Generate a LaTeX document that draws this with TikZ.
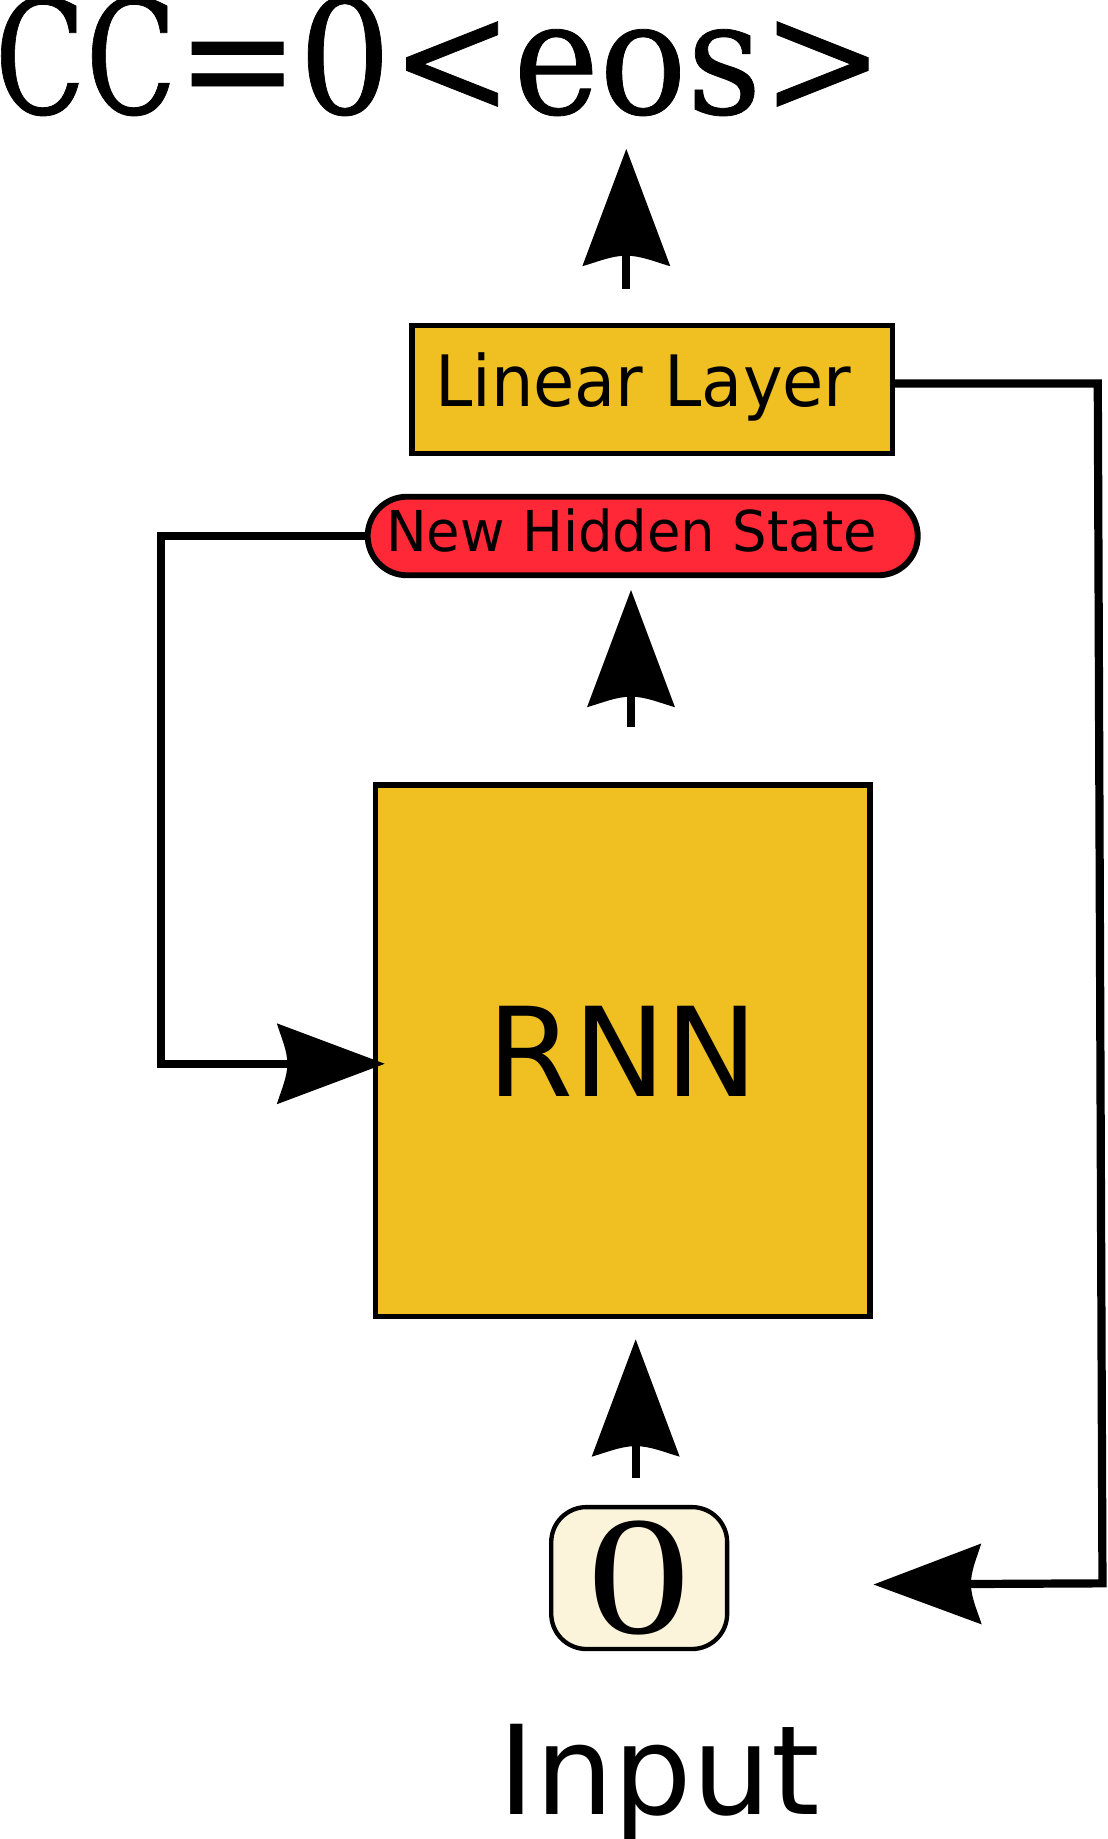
\documentclass[tikz,border=0pt]{standalone}
\usepackage{fontspec}
\usepackage{graphicx}
\setmainfont{DejaVu Sans}
\newfontfamily\titlefont[FakeBold=0.5]{DejaVu Serif}
\newfontfamily\zerofont{Liberation Serif}
\usetikzlibrary{arrows.meta}

\pgfdeclarearrow{
  name = Curved,
  parameters = {\the\pgfarrowlength,\the\pgfarrowwidth,\the\pgfarrowinset},
  setup code = {
    \pgfarrowssettipend{0pt}
    \pgfarrowssetlineend{-.5\pgfarrowlength}
    \pgfarrowssetbackend{-\pgfarrowlength}
    \pgfarrowssavethe\pgfarrowlength
    \pgfarrowssavethe\pgfarrowwidth
    \pgfarrowssavethe\pgfarrowinset
  },
  drawing code = {
    \pgfpathmoveto{\pgfqpoint{0pt}{0pt}}
    \pgfpathlineto{\pgfpoint{-\pgfarrowlength}{0.5*\pgfarrowwidth}}
    \pgfpathcurveto
      {\pgfpoint{-\pgfarrowlength+0.4*\pgfarrowinset}{0.333*\pgfarrowwidth}}
      {\pgfpoint{-\pgfarrowlength+\pgfarrowinset}{0.167*\pgfarrowwidth}}
      {\pgfpoint{-\pgfarrowlength+\pgfarrowinset}{0pt}}
    \pgfpathcurveto
      {\pgfpoint{-\pgfarrowlength+\pgfarrowinset}{-0.167*\pgfarrowwidth}}
      {\pgfpoint{-\pgfarrowlength+0.4*\pgfarrowinset}{-0.333*\pgfarrowwidth}}
      {\pgfpoint{-\pgfarrowlength}{-0.5*\pgfarrowwidth}}
    \pgfpathclose
    \pgfusepathqfill
  },
  defaults = {length = 10pt, width = 7pt, inset = 1pt}
}

\definecolor{gold}{HTML}{F0C022}
\definecolor{hidred}{HTML}{FF2837}
\definecolor{cream}{HTML}{FBF4DA}

\begin{document}
\begin{tikzpicture}[x=0.5pt,y=-0.5pt,
  box/.style={draw=black, line width=2.25pt, fill=gold, inner sep=0pt},
  pill/.style={draw=black, line width=2.5pt, fill=hidred, inner sep=0pt,
    rounded corners=16.75pt, minimum width=234.5pt, minimum height=33.5pt,
    font=\fontsize{24pt}{28pt}\selectfont, text depth=5.15pt},
  inbox/.style={draw=black, line width=1.85pt, fill=cream, inner sep=0pt,
    rounded corners=15pt, minimum width=75pt, minimum height=60.5pt},
  conn/.style={line width=3.5pt, -{Curved[length=50pt,width=37.5pt,inset=4.5pt]}},
  connh/.style={line width=3.5pt, -{Curved[length=46pt,width=34.5pt,inset=4.5pt]}},
  bigtext/.style={font=\fontsize{52.8pt}{60pt}\selectfont}
]
\useasboundingbox (0,0) rectangle (944,1568);

% title
\node[anchor=base west, inner sep=0pt,
  font=\titlefont\fontsize{67.6pt}{72pt}\selectfont] (title) at (-5,97)
  {\scalebox{0.75}[1]{CC}\scalebox{0.918}[1]{=0<eos>}};

% nodes
\node[box, minimum width=204.75pt, minimum height=54.75pt,
  font=\fontsize{30.2pt}{34pt}\selectfont, text height=22pt, text depth=7pt] (lin) at (556,332)
  {\scalebox{0.946}[1]{Linear Layer}\kern7.5pt};
\node[pill] (nhs) at (548,457) {\scalebox{0.967}[1]{New Hidden State}\kern9.5pt};
\node[box, minimum width=210.75pt, minimum height=226.75pt, bigtext] (rnn) at (531,896) {RNN};
\node[inbox] (inp) at (545,1345.5) {\zerofont\resizebox{44pt}{48pt}{0}};
\node[anchor=base, inner sep=0pt, bigtext] (lbl) at (562,1547) {Input};

% loop coordinates
\coordinate (r1) at (936,327);
\coordinate (r2) at (940,1350);

% connectors
\draw[conn] ([xshift=-11pt,yshift=14.5pt]lin.north) -- ++(0,-119);
\draw[conn] ([xshift=3.5pt,yshift=23.5pt]rnn.north) -- ([xshift=-5pt,yshift=-5pt]nhs.south);
\draw[conn] ([xshift=-1.5pt,yshift=11.5pt]inp.north) -- ([xshift=5.5pt,yshift=-8.5pt]rnn.south);
\draw[connh] ([yshift=2.5pt]lin.east) -- (r1) -- (r2) -- ([xshift=61.5pt,yshift=-2.75pt]inp.east);
\draw[connh] (nhs.west) -- ++(-174,0) |- ([xshift=5pt,yshift=-5.5pt]rnn.west);
\end{tikzpicture}
\end{document}
